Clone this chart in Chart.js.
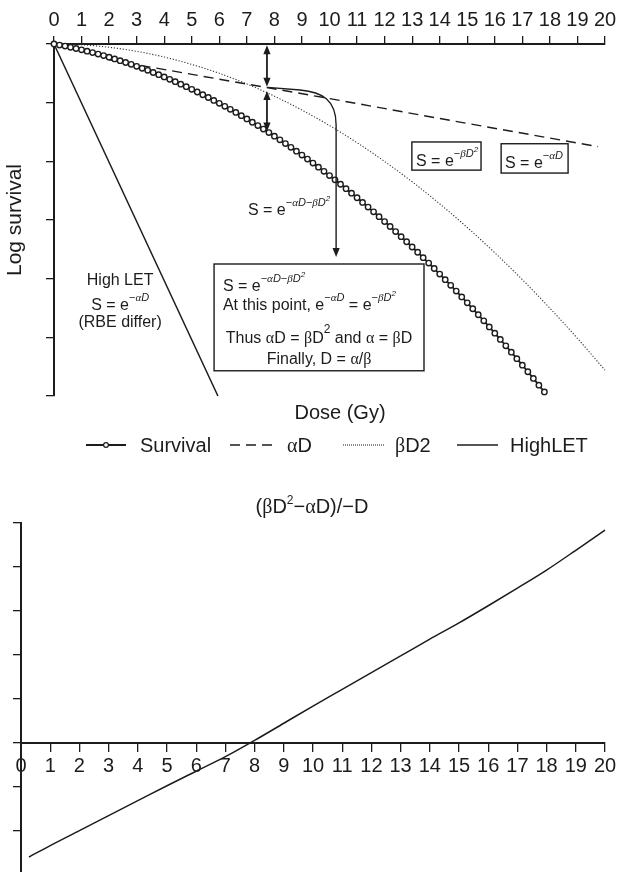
<!DOCTYPE html>
<html><head><meta charset="utf-8">
<script src="https://cdn.jsdelivr.net/npm/chart.js@4.4.0/dist/chart.umd.min.js"></script>
<style>
html,body{margin:0;padding:0;background:#fff;width:627px;height:872px;overflow:hidden;}
#c1{position:absolute;left:0;top:0;}
#c2{position:absolute;left:0;top:480px;}
</style></head><body>
<canvas id="c1" width="627" height="480"></canvas>
<canvas id="c2" width="627" height="392"></canvas>
<script>
// ---------- data ----------
const doseTicks = [0,1,2,3,4,5,6,7,8,9,10,11,12,13,14,15,16,17,18,19,20];
const logTicks = [-6,-5,-4,-3,-2,-1,0];

const survivalDose = [0,0.2,0.4,0.6,0.8,1,1.2,1.4,1.6,1.8,2,2.2,2.4,2.6,2.8,3,3.2,3.4,3.6,3.8,4,4.2,4.4,4.6,4.8,5,5.2,5.4,5.6,5.8,6,6.2,6.4,6.6,6.8,7,7.2,7.4,7.6,7.8,8,8.2,8.4,8.6,8.8,9,9.2,9.4,9.6,9.8,10,10.2,10.4,10.6,10.8,11,11.2,11.4,11.6,11.8,12,12.2,12.4,12.6,12.8,13,13.2,13.4,13.6,13.8,14,14.2,14.4,14.6,14.8,15,15.2,15.4,15.6,15.8,16,16.2,16.4,16.6,16.8,17,17.2,17.4,17.6,17.8];
const survivalLog = [0,-0.018,-0.036,-0.056,-0.077,-0.099,-0.122,-0.146,-0.171,-0.198,-0.225,-0.254,-0.284,-0.315,-0.347,-0.380,-0.414,-0.449,-0.486,-0.523,-0.562,-0.602,-0.643,-0.685,-0.728,-0.773,-0.818,-0.865,-0.912,-0.961,-1.011,-1.062,-1.114,-1.167,-1.222,-1.277,-1.334,-1.391,-1.450,-1.510,-1.571,-1.633,-1.697,-1.761,-1.826,-1.893,-1.961,-2.030,-2.100,-2.171,-2.243,-2.316,-2.391,-2.466,-2.543,-2.621,-2.700,-2.780,-2.861,-2.943,-3.027,-3.111,-3.197,-3.284,-3.371,-3.460,-3.550,-3.642,-3.734,-3.827,-3.922,-4.018,-4.114,-4.212,-4.311,-4.412,-4.513,-4.615,-4.719,-4.823,-4.929,-5.036,-5.144,-5.253,-5.363,-5.474,-5.587,-5.700,-5.815,-5.931];

const alphaDose = [2,6,10,14,19.75];
const alphaLog  = [-0.27,-0.60,-0.93,-1.27,-1.75];

const betaDose = [0,1,2,3,4,5,6,7,8,9,10,11,12,13,14,15,16,17,18,19,20];
const betaLog  = [0,-0.014,-0.056,-0.125,-0.222,-0.348,-0.50,-0.681,-0.89,-1.126,-1.39,-1.682,-2.002,-2.349,-2.724,-3.128,-3.558,-4.017,-4.504,-5.018,-5.56];

const highLetDose = [0,5.95];
const highLetLog  = [0,-6];

const diffDose  = [0.27,1,2,3,4,5,6,7,8,9,10,11,12,13,14,15,16,17,18,19,20];
const diffValue = [-2.59,-2.33,-1.99,-1.65,-1.31,-0.97,-0.64,-0.31,0.06,0.45,0.84,1.22,1.60,1.98,2.36,2.73,3.12,3.52,3.93,4.38,4.84];
const diffTicks = [-2,-1,0,1,2,3,4,5];

const seriesNames = ['Survival','αD','βD2','HighLET'];

// ---------- helpers ----------
const INK = '#1c1c1c';
const SANS = "'Liberation Sans', Arial, sans-serif";
const SERIF = "'Liberation Serif', 'Times New Roman', serif";
const ft = (s, fam, st) => `${st||''} ${s}px ${fam||SANS}`.trim();
const pts = (xs, ys) => xs.map((x,i)=>({x:x, y:ys[i]}));

function rich(ctx, x, y, parts, align){
  let w = 0;
  parts.forEach(p=>{ctx.font=p[1]; w+=ctx.measureText(p[0]).width;});
  let cx = align==='center' ? x - w/2 : x;
  ctx.textAlign='left'; ctx.textBaseline='alphabetic';
  parts.forEach(p=>{ctx.font=p[1]; ctx.fillText(p[0], cx, y + (p[2]||0)); cx += ctx.measureText(p[0]).width;});
}
function head(ctx,x,y,dir){ // dir 1: tip pointing down, -1 up
  ctx.beginPath(); ctx.moveTo(x,y); ctx.lineTo(x-3.6,y-9*dir); ctx.lineTo(x+3.6,y-9*dir); ctx.closePath(); ctx.fill();
}
function dblArrow(ctx,a,b){
  ctx.beginPath(); ctx.moveTo(a[0],a[1]+5); ctx.lineTo(b[0],b[1]-5); ctx.stroke();
  head(ctx,a[0],a[1],-1); head(ctx,b[0],b[1],1);
}
// superscript pieces
const T = 16, S = 11;
const nF = ft(T), sF = ft(S,SANS,'italic'), sG = ft(S,SERIF,'italic'), s2 = ft(8,SANS,'italic');
const SUP = -9;
const supAB = [['−',ft(S),SUP],['α',sG,SUP],['D',sF,SUP],['−',ft(S),SUP],['β',sG,SUP],['D',sF,SUP],['2',s2,SUP-5]];
const supA = [['−',ft(S),SUP],['α',sG,SUP],['D',sF,SUP]];
const supB = [['−',ft(S),SUP],['β',sG,SUP],['D',sF,SUP],['2',s2,SUP-5]];

const annot = {
  id:'annot',
  afterDraw(chart){
    const ctx = chart.ctx, xs = chart.scales.x, ys = chart.scales.y;
    const P = (d,v)=>[xs.getPixelForValue(d), ys.getPixelForValue(v)];
    ctx.save();
    ctx.fillStyle = INK; ctx.strokeStyle = INK;
    // double arrows
    ctx.lineWidth = 1.8;
    dblArrow(ctx, P(7.73,-0.02), P(7.73,-0.73));
    dblArrow(ctx, P(7.73,-0.80), P(7.73,-1.49));
    // connector curve
    ctx.lineWidth = 1.4;
    const a=P(7.76,-0.74), b=P(8.93,-0.785), c1=P(9.73,-0.82), c2=P(10.24,-0.95), e=P(10.24,-1.38), f=P(10.24,-3.52), t=P(10.24,-3.63);
    ctx.beginPath(); ctx.moveTo(a[0],a[1]); ctx.lineTo(b[0],b[1]);
    ctx.bezierCurveTo(c1[0],c1[1],c2[0],c2[1],e[0],e[1]); ctx.lineTo(f[0],f[1]); ctx.stroke();
    head(ctx,t[0],t[1],1);

    // label on curve
    let p = P(7.04,-2.92);
    rich(ctx,p[0],p[1],[['S = e',nF]].concat(supAB));

    // boxes
    ctx.lineWidth = 1.4;
    let r1=P(12.99,-1.67), r2=P(15.50,-2.15);
    ctx.strokeRect(r1[0],r1[1],r2[0]-r1[0],r2[1]-r1[1]);
    p = P(13.14,-2.08); rich(ctx,p[0],p[1],[['S = e',nF]].concat(supB));
    r1=P(16.23,-1.70); r2=P(18.66,-2.20);
    ctx.strokeRect(r1[0],r1[1],r2[0]-r1[0],r2[1]-r1[1]);
    p = P(16.37,-2.11); rich(ctx,p[0],p[1],[['S = e',nF]].concat(supA));

    // big box
    r1=P(5.81,-3.75); r2=P(13.43,-5.57);
    ctx.strokeRect(r1[0],r1[1],r2[0]-r1[0],r2[1]-r1[1]);
    p = P(6.13,-4.21); rich(ctx,p[0],p[1],[['S = e',nF]].concat(supAB));
    p = P(6.13,-4.53); rich(ctx,p[0],p[1],[['At this point, e',nF]].concat(supA,[[' = e',nF]],supB));
    p = P(9.62,-5.10); rich(ctx,p[0],p[1],[['Thus ',nF],['α',ft(T,SERIF)],['D = ',nF],['β',ft(T,SERIF)],['D',nF],['2',ft(12),-10],[' and ',nF],['α',ft(T,SERIF)],[' = ',nF],['β',ft(T,SERIF)],['D',nF]],'center');
    p = P(9.62,-5.45); rich(ctx,p[0],p[1],[['Finally, D = ',nF],['α',ft(T,SERIF)],['/',nF],['β',ft(T,SERIF)]],'center');

    // High LET block
    p = P(2.40,-4.11); rich(ctx,p[0],p[1],[['High LET',nF]],'center');
    p = P(2.40,-4.53); rich(ctx,p[0],p[1],[['S = e',nF]].concat(supA),'center');
    p = P(2.40,-4.82); rich(ctx,p[0],p[1],[['(RBE differ)',nF]],'center');

    // x-axis title (bottom)
    ctx.font = ft(20); ctx.textAlign='center'; ctx.textBaseline='alphabetic';
    ctx.fillText('Dose (Gy)', 340, 419);

    // legend
    const ly = 445, tb = 452;
    const ds = chart.data.datasets;
    ctx.textAlign='left';
    // survival
    ctx.lineWidth = ds[0].borderWidth; ctx.setLineDash([]);
    ctx.beginPath(); ctx.moveTo(86,ly); ctx.lineTo(126,ly); ctx.stroke();
    ctx.beginPath(); ctx.arc(106,ly,2.4,0,Math.PI*2); ctx.fillStyle='#fff'; ctx.fill(); ctx.lineWidth=1.2; ctx.stroke();
    ctx.fillStyle = INK;
    rich(ctx,140,tb,[[seriesNames[0],ft(20)]]);
    // alpha
    ctx.lineWidth = ds[1].borderWidth; ctx.setLineDash(ds[1].borderDash);
    ctx.beginPath(); ctx.moveTo(230,ly); ctx.lineTo(278,ly); ctx.stroke();
    rich(ctx,287,tb,[['α',ft(20,SERIF)],['D',ft(20)]]);
    // beta
    ctx.lineWidth = 1; ctx.setLineDash([1,1]);
    ctx.beginPath(); ctx.moveTo(343,ly); ctx.lineTo(385,ly); ctx.stroke();
    rich(ctx,395,tb,[['β',ft(20,SERIF)],['D2',ft(20)]]);
    // high LET
    ctx.lineWidth = ds[3].borderWidth; ctx.setLineDash([]);
    ctx.beginPath(); ctx.moveTo(457,ly); ctx.lineTo(498,ly); ctx.stroke();
    rich(ctx,510,tb,[[seriesNames[3],ft(20)]]);
    ctx.restore();
  }
};

const axisCommon = {
  grid:{drawOnChartArea:false, tickLength:8, color:INK, lineWidth:1.3},
  border:{color:INK, width:2}
};

new Chart(document.getElementById('c1'), {
  type:'line',
  data:{datasets:[
    {label:seriesNames[0], data:pts(survivalDose,survivalLog), borderColor:INK, borderWidth:1.8,
     pointRadius:2.7, pointBorderWidth:1.4, pointBackgroundColor:'#fff', pointBorderColor:INK, tension:0, clip:false, order:0},
    {label:seriesNames[1], data:pts(alphaDose,alphaLog), borderColor:INK, borderWidth:1.4, borderDash:[10,6], pointRadius:0, clip:false, order:1},
    {label:seriesNames[2], data:pts(betaDose,betaLog), borderColor:'#333', borderWidth:1.1, borderDash:[1.2,1.8], pointRadius:0, cubicInterpolationMode:'monotone', clip:false, order:2},
    {label:seriesNames[3], data:pts(highLetDose,highLetLog), borderColor:INK, borderWidth:1.5, pointRadius:0, clip:false, order:3}
  ]},
  options:{
    responsive:false, animation:false, devicePixelRatio:1,
    layout:{padding:{left:0,right:22,top:0,bottom:84}},
    plugins:{legend:{display:false}, tooltip:{enabled:false}},
    scales:{
      x:Object.assign({type:'linear', position:'top', min:0, max:20,
        afterFit:s=>{s.height=44;},
        afterBuildTicks:s=>{s.ticks=doseTicks.map(v=>({value:v}));},
        ticks:{font:{size:20,family:SANS}, color:INK, padding:4, maxRotation:0, autoSkip:false}}, axisCommon),
      y:Object.assign({type:'linear', min:-6, max:0,
        afterFit:s=>{s.width=54;},
        afterBuildTicks:s=>{s.ticks=logTicks.map(v=>({value:v}));},
        ticks:{display:false},
        title:{display:true, text:'Log survival', color:INK, font:{size:21,family:SANS}, padding:{top:3,bottom:0}}}, axisCommon)
    }
  },
  plugins:[annot]
});

const titlePlugin = {
  id:'ttl',
  afterDraw(chart){
    const ctx = chart.ctx;
    ctx.save(); ctx.fillStyle = INK;
    rich(ctx, 312, 33, [['(',ft(20)],['β',ft(20,SERIF)],['D',ft(20)],['2',ft(12),-9],['−',ft(20)],['α',ft(20,SERIF)],['D)/−D',ft(20)]], 'center');
    ctx.restore();
  }
};

new Chart(document.getElementById('c2'), {
  type:'line',
  data:{datasets:[
    {label:'(βD2−αD)/−D', data:pts(diffDose,diffValue), borderColor:INK, borderWidth:1.5, pointRadius:0, cubicInterpolationMode:'monotone', clip:false}
  ]},
  options:{
    responsive:false, animation:false, devicePixelRatio:1,
    layout:{padding:{left:0,right:22,top:43,bottom:0}},
    plugins:{legend:{display:false}, tooltip:{enabled:false}},
    scales:{
      x:Object.assign({type:'linear', position:{y:0}, min:0, max:20,
        afterBuildTicks:s=>{s.ticks=doseTicks.map(v=>({value:v}));},
        ticks:{font:{size:20,family:SANS}, color:INK, padding:3, maxRotation:0, autoSkip:false}}, axisCommon),
      y:Object.assign({type:'linear', min:-2.93, max:5,
        afterFit:s=>{s.width=21;},
        afterBuildTicks:s=>{s.ticks=diffTicks.map(v=>({value:v}));},
        ticks:{display:false}}, axisCommon)
    }
  },
  plugins:[titlePlugin]
});
</script>
</body></html>
